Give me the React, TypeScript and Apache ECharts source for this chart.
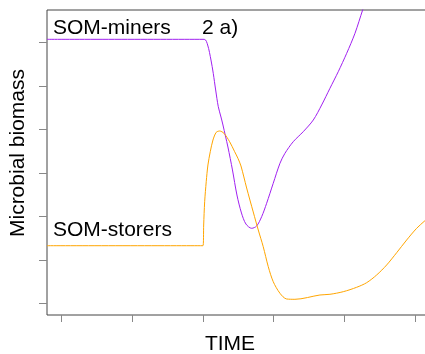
import React, { useEffect, useRef } from "react";
import * as echarts from "echarts";

// Data in axis-tick units (x ticks 0..5, y ticks 0..6)
const minersX = [-0.197, 2.021, 2.069, 2.116, 2.148, 2.182, 2.219, 2.257, 2.285, 2.32, 2.355, 2.419, 2.482, 2.546, 2.609, 2.69, 2.76, 2.831, 2.901, 2.994, 3.089, 3.159, 3.276, 3.417, 3.559, 3.677, 3.794, 3.911, 4.03, 4.147, 4.255, 4.302];
const minersY = [6.078, 6.078, 5.947, 5.602, 5.297, 4.913, 4.529, 4.292, 4.108, 3.855, 3.602, 3.074, 2.499, 2.085, 1.832, 1.733, 1.786, 2.0, 2.308, 2.768, 3.228, 3.457, 3.724, 3.954, 4.223, 4.568, 4.952, 5.333, 5.756, 6.216, 6.752, 6.982];

const storersX = [-0.197, 2.003, 2.013, 2.027, 2.049, 2.073, 2.106, 2.144, 2.19, 2.238, 2.299, 2.379, 2.45, 2.496, 2.539, 2.619, 2.712, 2.783, 2.853, 2.924, 2.994, 3.089, 3.183, 3.3, 3.653, 3.794, 3.982, 4.171, 4.312, 4.453, 4.594, 4.735, 4.876, 5.017, 5.134, 5.275];
const storersY = [1.333, 1.333, 1.809, 2.345, 2.805, 3.189, 3.494, 3.763, 3.94, 3.97, 3.917, 3.724, 3.494, 3.343, 3.166, 2.66, 2.108, 1.694, 1.31, 0.851, 0.506, 0.239, 0.108, 0.101, 0.2, 0.216, 0.276, 0.377, 0.483, 0.66, 0.89, 1.172, 1.464, 1.733, 1.908, 2.108];

const xTicks = [0, 1, 2, 3, 4, 5];
const yTicks = [0, 1, 2, 3, 4, 5, 6];

const FONT = "'Liberation Sans', Arial, Helvetica, sans-serif";

export default function App() {
  const ref = useRef<HTMLDivElement>(null);
  useEffect(() => {
    const chart = echarts.init(ref.current!, null, { renderer: "svg" });
    chart.setOption({
      animation: false,
      grid: {
        left: 47,
        top: 10,
        right: -2,
        bottom: 39,
        show: true,
        borderColor: "#444",
        borderWidth: 1,
        backgroundColor: "transparent",
        outerBoundsMode: "none",
      },
      xAxis: {
        type: "value",
        min: -0.197,
        max: 5.163,
        axisLine: { show: false, onZero: false },
        splitLine: { show: false },
        axisLabel: { show: false },
        axisTick: {
          show: true,
          inside: false,
          customValues: xTicks,
          length: 7,
          lineStyle: { color: "#888", width: 1 },
        },
      },
      yAxis: {
        type: "value",
        min: -0.26,
        max: 6.752,
        axisLine: { show: false, onZero: false },
        splitLine: { show: false },
        axisLabel: { show: false },
        axisTick: {
          show: true,
          inside: false,
          customValues: yTicks,
          length: 8,
          lineStyle: { color: "#888", width: 1 },
        },
      },
      series: [
        {
          name: "SOM-miners",
          type: "line",
          showSymbol: false,
          smooth: 0.3,
          clip: true,
          lineStyle: { color: "#A020F0", width: 1 },
          itemStyle: { color: "#A020F0" },
          data: minersX.map((x, i) => [x, minersY[i]]),
        },
        {
          name: "SOM-storers",
          type: "line",
          showSymbol: false,
          smooth: 0.3,
          clip: true,
          lineStyle: { color: "#FFA500", width: 1 },
          itemStyle: { color: "#FFA500" },
          data: storersX.map((x, i) => [x, storersY[i]]),
        },
      ],
      graphic: [
        {
          type: "text",
          x: 53,
          y: 26.5,
          style: { text: "SOM-miners", fontSize: 21, fontFamily: FONT, fill: "#000", textVerticalAlign: "middle" },
        },
        {
          type: "text",
          x: 202,
          y: 26.5,
          style: { text: "2 a)", fontSize: 21, fontFamily: FONT, fill: "#000", textVerticalAlign: "middle" },
        },
        {
          type: "text",
          x: 53,
          y: 228.5,
          style: { text: "SOM-storers", fontSize: 21, fontFamily: FONT, fill: "#000", textVerticalAlign: "middle" },
        },
        {
          type: "text",
          x: 16.7,
          y: 153,
          rotation: Math.PI / 2,
          style: {
            text: "Microbial biomass",
            fontSize: 21,
            fontFamily: FONT,
            fill: "#000",
            textAlign: "center",
            textVerticalAlign: "middle",
          },
        },
        {
          type: "text",
          x: 230,
          y: 342.5,
          style: {
            text: "TIME",
            fontSize: 21,
            fontFamily: FONT,
            fill: "#000",
            textAlign: "center",
            textVerticalAlign: "middle",
          },
        },
      ],
    });
    return () => chart.dispose();
  }, []);
  return (
    <div
      ref={ref}
      style={{ position: "fixed", left: 0, top: 0, width: 425, height: 354 }}
    />
  );
}
